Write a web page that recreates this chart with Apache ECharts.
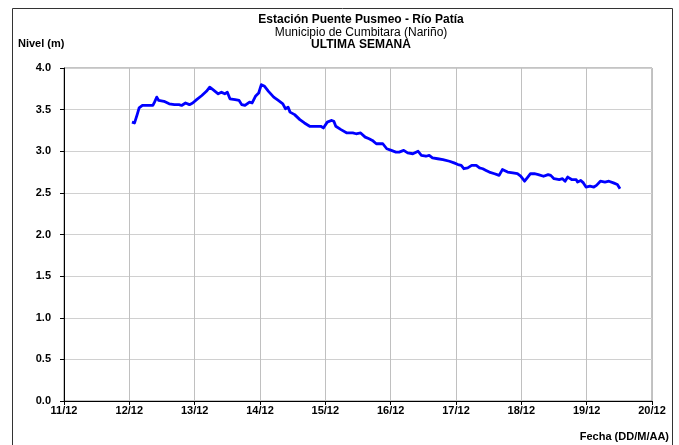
<!DOCTYPE html>
<html>
<head>
<meta charset="utf-8">
<script src="https://cdn.jsdelivr.net/npm/echarts@6/dist/echarts.min.js"></script>
<style>
  html, body { margin: 0; padding: 0; background: #fff; }
  #chart { width: 679px; height: 445px; }
</style>
</head>
<body>
<div id="chart"></div>
<script>
// Fecha en días de diciembre (fracción = hora del día)
var dias = [
  12.04, 12.08, 12.12, 12.15, 12.20, 12.28, 12.36, 12.38, 12.42, 12.45,
  12.48, 12.53, 12.61, 12.69, 12.76, 12.80, 12.86, 12.92, 12.97, 13.03,
  13.11, 13.18, 13.23, 13.28, 13.36, 13.41, 13.46, 13.50, 13.54, 13.62,
  13.68, 13.72, 13.77, 13.84, 13.88, 13.93, 13.98, 14.02, 14.07, 14.13,
  14.21, 14.28, 14.35, 14.39, 14.43, 14.46, 14.53, 14.61, 14.68, 14.76,
  14.86, 14.93, 14.97, 15.03, 15.09, 15.13, 15.16, 15.24, 15.33, 15.42,
  15.47, 15.54, 15.61, 15.67, 15.72, 15.78, 15.81, 15.88, 15.94, 16.01,
  16.08, 16.13, 16.20, 16.26, 16.34, 16.42, 16.47, 16.54, 16.59, 16.64,
  16.72, 16.80, 16.90, 16.97, 17.03, 17.08, 17.12, 17.18, 17.24, 17.31,
  17.36, 17.41, 17.46, 17.51, 17.59, 17.66, 17.71, 17.79, 17.87, 17.94,
  17.99, 18.05, 18.09, 18.14, 18.20, 18.26, 18.28, 18.34, 18.41, 18.45,
  18.50, 18.58, 18.63, 18.67, 18.71, 18.77, 18.84, 18.86, 18.91, 18.95,
  18.99, 19.01, 19.05, 19.11, 19.15, 19.21, 19.28, 19.34, 19.41, 19.47,
  19.51
];
// Nivel del río (m)
var nivel = [
  3.35, 3.34, 3.44, 3.52, 3.55, 3.55, 3.55, 3.58, 3.65, 3.61,
  3.63, 3.60, 3.57, 3.56, 3.56, 3.55, 3.58, 3.56, 3.58, 3.62,
  3.67, 3.72, 3.77, 3.74, 3.69, 3.71, 3.69, 3.71, 3.63, 3.62,
  3.61, 3.56, 3.55, 3.59, 3.58, 3.66, 3.70, 3.80, 3.78, 3.72,
  3.65, 3.61, 3.57, 3.51, 3.53, 3.47, 3.44, 3.38, 3.34, 3.30,
  3.30, 3.30, 3.28, 3.35, 3.37, 3.36, 3.30, 3.26, 3.22, 3.22,
  3.21, 3.22, 3.17, 3.15, 3.13, 3.09, 3.10, 3.09, 3.03, 3.01,
  2.99, 2.99, 3.01, 2.98, 2.97, 3.00, 2.95, 2.94, 2.95, 2.92,
  2.91, 2.90, 2.88, 2.86, 2.84, 2.83, 2.79, 2.80, 2.83, 2.83,
  2.80, 2.79, 2.77, 2.75, 2.73, 2.71, 2.78, 2.75, 2.74, 2.73,
  2.70, 2.64, 2.68, 2.73, 2.73, 2.72, 2.73, 2.70, 2.72, 2.71,
  2.67, 2.66, 2.67, 2.64, 2.69, 2.66, 2.66, 2.63, 2.65, 2.62,
  2.57, 2.56, 2.58, 2.57, 2.59, 2.64, 2.63, 2.64, 2.62, 2.60,
  2.55
];
var ticksY = [0, 0.5, 1, 1.5, 2, 2.5, 3, 3.5, 4];
var ticksX = [11, 12, 13, 14, 15, 16, 17, 18, 19, 20];

var serie = dias.map(function (d, i) { return [d, nivel[i]]; });
var FONT = '"Liberation Sans", Arial, sans-serif';

var chart = echarts.init(document.getElementById('chart'), null, { renderer: 'canvas' });
chart.setOption({
  backgroundColor: '#fff',
  animation: false,
  title: [
    { text: 'Estación Puente Pusmeo - Río Patía', left: 356, top: 9, textAlign: 'center',
      textStyle: { fontFamily: FONT, fontSize: 12, fontWeight: 'bold', color: '#000' } },
    { text: 'Municipio de Cumbitara (Nariño)', left: 356, top: 22, textAlign: 'center',
      textStyle: { fontFamily: FONT, fontSize: 12, fontWeight: 'normal', color: '#000' } },
    { text: 'ULTIMA SEMANA', left: 356, top: 34, textAlign: 'center',
      textStyle: { fontFamily: FONT, fontSize: 12, fontWeight: 'bold', color: '#000' } }
  ],
  graphic: [
    { type: 'rect', shape: { x: 12.5, y: 8.5, width: 660, height: 460 },
      style: { fill: 'none', stroke: '#333', lineWidth: 1 }, z: 0 },
    { type: 'text', left: 18, top: 38,
      style: { text: 'Nivel (m)', font: 'bold 11px ' + FONT, fill: '#000' } },
    { type: 'text', right: 10, top: 431,
      style: { text: 'Fecha (DD/M/AA)', font: 'bold 11px ' + FONT, fill: '#000' } }
  ],
  grid: { left: 64, right: 27, top: 68, bottom: 44, show: true, borderColor: '#888', borderWidth: 1 },
  xAxis: {
    type: 'value', min: ticksX[0], max: ticksX[ticksX.length - 1], interval: 1,
    axisLine: { show: true, onZero: false, lineStyle: { color: '#000', width: 1 } },
    axisTick: { show: true, inside: false, length: 4, lineStyle: { color: '#000' } },
    axisLabel: { margin: 4, fontFamily: FONT, fontSize: 11, fontWeight: 'bold', color: '#000',
      formatter: function (v) { return v + '/12'; } },
    splitLine: { show: true, lineStyle: { color: '#c0c0c0', width: 1 } }
  },
  yAxis: {
    type: 'value', min: ticksY[0], max: ticksY[ticksY.length - 1], interval: 0.5,
    axisLine: { show: true, lineStyle: { color: '#000', width: 1 } },
    axisTick: { show: true, inside: false, length: 4, lineStyle: { color: '#000' } },
    axisLabel: { margin: 13, fontFamily: FONT, fontSize: 11, fontWeight: 'bold', color: '#000',
      formatter: function (v) { return v.toFixed(1); } },
    splitLine: { show: true, lineStyle: { color: '#d0d0d0', width: 1 } }
  },
  series: [{
    type: 'line', data: serie, showSymbol: false, smooth: false,
    lineStyle: { color: '#0000ff', width: 2.8, join: 'round' }, z: 5
  }]
});
</script>
</body>
</html>
